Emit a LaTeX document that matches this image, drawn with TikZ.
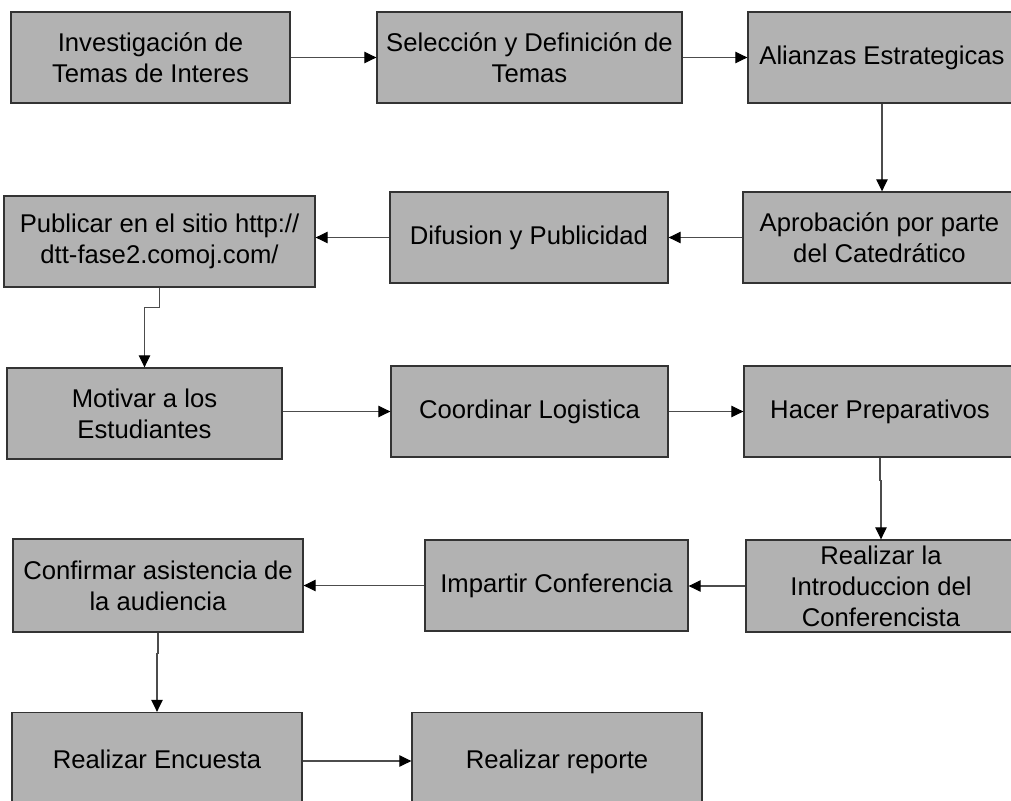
\documentclass[tikz,border=0pt]{standalone}
\usepackage{fontspec}
\setmainfont{Liberation Sans}
\usetikzlibrary{arrows.meta}

\begin{document}
\begin{tikzpicture}[x=0.02cm,y=-0.02cm,
  box/.style={draw=black!80, line width=0.8pt, fill=black!30, align=center,
    inner sep=1pt, minimum height=1.82cm,
    font=\fontsize{14.6}{17.6}\selectfont},
  link/.style={draw=black!70, line width=0.6pt,
    -{Triangle[length=0.24cm,width=0.23cm,black]}}]
\useasboundingbox (0,0) rectangle (1011,801);
%\fill [white] (0,0) rectangle (1011,801);
\node[box, minimum width=5.58cm] (inv) at (150.5,57.5) {Investigación de\\Temas de Interes};
\node[box, minimum width=6.10cm] (sel) at (529.5,57.5) {Selección y Definición de\\Temas};
\node[box, minimum width=5.36cm] (ali) at (882,57.5) {Alianzas Estrategicas};
\node[box, minimum width=6.22cm] (pub) at (159.5,241.5) {Publicar en el sitio http://\\dtt-fase2.comoj.com/};
\node[box, minimum width=5.56cm] (dif) at (529,237.5) {Difusion y Publicidad};
\node[box, minimum width=5.46cm] (apr) at (879.5,237.5) {Aprobación por parte\\del Catedrático};
\node[box, minimum width=5.50cm] (mot) at (144.5,413.5) {Motivar a los\\Estudiantes};
\node[box, minimum width=5.54cm] (coo) at (529.5,411.5) {Coordinar Logistica};
\node[box, minimum width=5.44cm] (hac) at (880,411.5) {Hacer Preparativos};
\node[box, minimum width=5.80cm, minimum height=1.86cm] (con) at (158,585.5) {Confirmar asistencia de\\la audiencia};
\node[box, minimum width=5.26cm] (imp) at (556.5,585.5) {Impartir Conferencia};
\node[box, minimum width=5.40cm, minimum height=1.84cm] (rea) at (881,586) {Realizar la\\Introduccion del\\Conferencista};
\node[box, minimum width=5.80cm, minimum height=1.94cm, text depth=0.25em] (enc) at (157,761) {Realizar Encuesta};
\node[box, minimum width=5.80cm, minimum height=1.94cm, text depth=0.25em] (rep) at (557,761) {Realizar reporte};

\draw[link] (inv) -- (sel);
\draw[link] (sel) -- (ali);
\draw[link] (ali.south) -- (ali.south |- apr.north);
\draw[link] (apr) -- (dif);
\draw[link] (dif) -- (dif -| pub.east);
\draw[link] (pub.south) -- ++(0,20) -| (mot.north);
\draw[link] (mot.east |- coo.west) -- (coo.west);
\draw[link] (coo) -- (hac);
\draw[link] (hac.south) -- ++(0,23) -| (rea.north);
\draw[link] (rea.west) -- (rea.west -| imp.east);
\draw[link] (imp) -- (con);
\draw[link] (con.south) -- ++(0,21) -| (enc.north);
\draw[link] (enc) -- (rep);
\end{tikzpicture}
\end{document}
